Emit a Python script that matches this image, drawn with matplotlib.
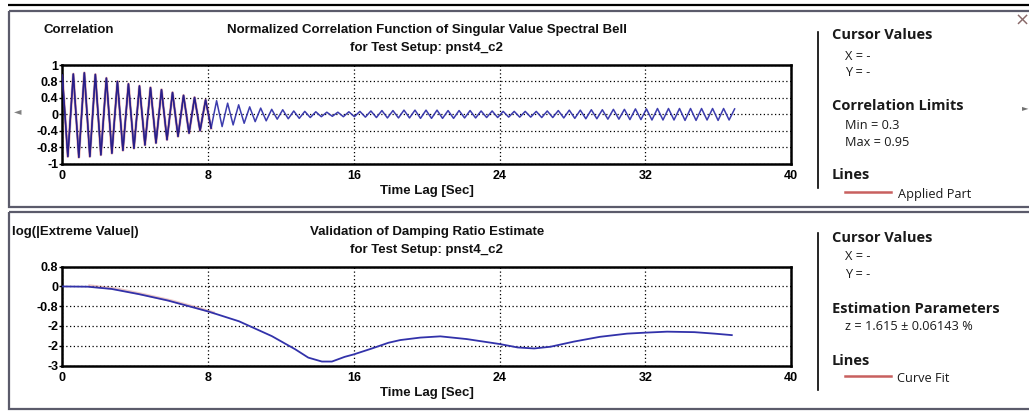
import matplotlib
matplotlib.use("Agg")
import matplotlib.pyplot as plt
from matplotlib.patches import Rectangle
import numpy as np

W, H = 1029, 412

# ---- Normalized correlation function: successive extrema (peak / trough) ----
lag_step = 0.3025  # seconds between successive extrema
corr_extrema = [
    0.95, -1.03, 0.98, -1.05, 1.01, -1.03, 0.97, -0.99, 0.88, -0.95,
    0.80, -0.88, 0.74, -0.83, 0.69, -0.75, 0.65, -0.70, 0.60, -0.62,
    0.53, -0.54, 0.46, -0.46, 0.41, -0.40, 0.35, -0.34, 0.33, -0.30,
    0.27, -0.26, 0.23, -0.22, 0.18, -0.18, 0.15, -0.16, 0.12, -0.12,
    0.11, -0.11, 0.08, -0.10, 0.07, -0.08, 0.06, -0.06, 0.05, -0.05,
    0.05, -0.06, 0.06, -0.06, 0.07, -0.07, 0.08, -0.08, 0.09, -0.09,
    0.09, -0.09, 0.10, -0.09, 0.10, -0.10, 0.10, -0.10, 0.10, -0.10,
    0.09, -0.10, 0.09, -0.09, 0.09, -0.09, 0.08, -0.08, 0.08, -0.08,
    0.07, -0.07, 0.07, -0.07, 0.07, -0.07, 0.07, -0.08, 0.08, -0.08,
    0.09, -0.09, 0.10, -0.10, 0.10, -0.11, 0.11, -0.11, 0.11, -0.12,
    0.12, -0.12, 0.12, -0.13, 0.13, -0.13, 0.13, -0.14, 0.14, -0.14,
    0.14, -0.14, 0.14, -0.15, 0.14, -0.15, 0.14, -0.14, 0.14, -0.15,
    0.14, -0.14, 0.13,
]
applied_extrema = 28  # extrema that fall inside the applied part (0.95 .. 0.3)

# ---- log(|extreme value|) and its curve fit ----
ext_lag = [0.0, 1.4, 2.7, 4.2, 5.8, 8.0, 9.7, 11.5, 12.8, 13.5, 14.25, 14.8,
           15.5, 16.0, 17.0, 17.9, 18.55, 19.65, 20.75, 22.2, 24.0, 25.0,
           25.9, 26.8, 28.1, 29.5, 31.0, 32.0, 33.2, 34.7, 35.8, 36.75]
ext_log = [0.0, -0.01, -0.10, -0.31, -0.57, -1.01, -1.41, -2.01, -2.55, -2.88,
           -3.04, -3.04, -2.85, -2.75, -2.51, -2.28, -2.17, -2.07, -2.02,
           -2.13, -2.33, -2.47, -2.51, -2.44, -2.23, -2.04, -1.91, -1.87,
           -1.83, -1.85, -1.91, -1.97]
fit_lag = [1.5, 3.0, 4.5, 6.0, 7.5, 8.3]
fit_log = [0.03, -0.10, -0.33, -0.58, -0.88, -1.06]

# ---- axes ticks and their printed labels ----
lag_ticks = [0, 8, 16, 24, 32, 40]
lag_tick_labels = ["0", "8", "16", "24", "32", "40"]
corr_ticks = [-1.2, -0.8, -0.4, 0.0, 0.4, 0.8, 1.2]
corr_tick_labels = ["-1", "-0.8", "-0.4", "0", "0.4", "0.8", "1"]
log_ticks = [-3.2, -2.4, -1.6, -0.8, 0.0, 0.8]
log_tick_labels = ["-3", "-2", "-2", "-0.8", "0", "0.8"]

BLUE = "#3232aa"
BLUE_DARK = "#2a1e86"
RED = "#c8605f"
AX_FONT = "Liberation Sans"
UI_FONT = "Open Sans"

fig = plt.figure(figsize=(W / 100, H / 100), dpi=100)
fig.patch.set_facecolor("white")

# full-figure overlay in pixel coordinates for frames and captions
bg = fig.add_axes([0, 0, 1, 1])
bg.set_xlim(0, W)
bg.set_ylim(H, 0)
bg.axis("off")


def px_axes(x0, y0, x1, y1):
    return fig.add_axes([x0 / W, 1 - y1 / H, (x1 - x0) / W, (y1 - y0) / H])


def style_axes(ax, yticks, ylabels, ylim):
    ax.set_xlim(0, 40)
    ax.set_ylim(*ylim)
    ax.set_xticks(lag_ticks)
    ax.set_xticklabels(lag_tick_labels, fontfamily=AX_FONT,
                       fontweight="bold", fontsize=9)
    ax.set_yticks(yticks)
    ax.set_yticklabels(ylabels, fontfamily=AX_FONT,
                       fontweight="bold", fontsize=9)
    ax.grid(True, color="black", linestyle=(0, (1, 2)), linewidth=0.9)
    ax.set_axisbelow(True)
    for s in ax.spines.values():
        s.set_linewidth(1.8)
        s.set_color("black")
    ax.tick_params(axis="y", direction="out", length=2.5, width=1, pad=0.5)
    ax.tick_params(axis="x", direction="out", length=0, width=1, pad=5)


# ---------------- top panel ----------------
ax1 = px_axes(62.3, 65, 791, 163.5)
style_axes(ax1, corr_ticks, corr_tick_labels, (-1.2, 1.2))
lags = np.arange(len(corr_extrema)) * lag_step
corr = np.array(corr_extrema)
n_app = applied_extrema
ax1.plot(lags[:n_app], corr[:n_app], color=RED, lw=2.0, alpha=0.5,
         solid_joinstyle="round", zorder=2)
ax1.plot(lags, corr, color=BLUE, lw=1.1, alpha=0.95,
         solid_joinstyle="round", zorder=3)
ax1.plot(lags[:n_app], corr[:n_app], color=BLUE_DARK, lw=1.0,
         solid_joinstyle="round", zorder=4)

# ---------------- bottom panel ----------------
ax2 = px_axes(62.3, 266.7, 791, 365.5)
style_axes(ax2, log_ticks, log_tick_labels, (-3.2, 0.8))
ax2.plot(fit_lag, fit_log, color=RED, lw=2.0, alpha=0.35, zorder=2)
ax2.plot(ext_lag, ext_log, color=BLUE, lw=1.3, zorder=3)

# ---------------- frames ----------------
bg.plot([8, W], [5, 5], color="black", lw=1.6, solid_capstyle="butt")
for y0, y1 in [(11, 207), (212, 409)]:
    bg.add_patch(Rectangle((9, y0), W, y1 - y0, fill=False,
                           edgecolor="#5b5b6b", lw=1.6))
bg.plot([818, 818], [32, 188], color="black", lw=1.2)
bg.plot([818, 818], [233, 390], color="black", lw=1.2)

# ---------------- captions on the plots ----------------
cap = dict(fontfamily=AX_FONT, fontweight="bold", fontsize=9.5, color="#111111")
bg.text(43, 30, "Correlation", ha="left", va="center", **cap)
bg.text(426.7, 30, "Normalized Correlation Function of Singular Value Spectral Bell",
        ha="center", va="center", **cap)
bg.text(426.7, 48, "for Test Setup: pnst4_c2", ha="center", va="center", **cap)
bg.text(426.7, 191, "Time Lag [Sec]", ha="center", va="center", **cap)

bg.text(12, 232, "log(|Extreme Value|)", ha="left", va="center", **cap)
bg.text(426.7, 232, "Validation of Damping Ratio Estimate",
        ha="center", va="center", **cap)
bg.text(426.7, 250, "for Test Setup: pnst4_c2", ha="center", va="center", **cap)
bg.text(426.7, 393, "Time Lag [Sec]", ha="center", va="center", **cap)

# ---------------- side info panels ----------------
head = dict(fontfamily=UI_FONT, fontweight="bold", fontsize=10.5,
            color="#1a1a1a", ha="left", va="center")
body = dict(fontfamily=UI_FONT, fontsize=9.2, color="#1a1a1a",
            ha="left", va="center")

bg.text(832, 35, "Cursor Values", **head)
bg.text(845, 56, "X = -", **body)
bg.text(845, 72, "Y = -", **body)
bg.text(832, 106, "Correlation Limits", **head)
bg.text(845, 125, "Min = 0.3", **body)
bg.text(845, 143, "Max = 0.95", **body)
bg.text(832, 175, "Lines", **head)
bg.plot([845, 891], [192, 192], color=RED, lw=1.8)
bg.text(898, 194, "Applied Part", **body)

bg.text(832, 238, "Cursor Values", **head)
bg.text(845, 257, "X = -", **body)
bg.text(845, 274, "Y = -", **body)
bg.text(832, 309, "Estimation Parameters", **head)
bg.text(845, 326, "z = 1.615 \u00b1 0.06143 %", **body)
bg.text(832, 361, "Lines", **head)
bg.plot([845, 891], [376, 376], color=RED, lw=1.8)
bg.text(897, 378, "Curve Fit", **body)

# window controls
bg.text(1022, 21, "\u00d7", fontfamily="DejaVu Sans", fontsize=13,
        color="#8a6a6a", ha="center", va="center")
bg.text(18, 111, "\u25c4", fontfamily="DejaVu Sans", fontsize=7,
        color="#808080", ha="center", va="center")
bg.text(1025, 108, "\u25ba", fontfamily="DejaVu Sans", fontsize=6,
        color="#707070", ha="center", va="center")

fig.savefig("out.png", dpi=100, facecolor="white")
